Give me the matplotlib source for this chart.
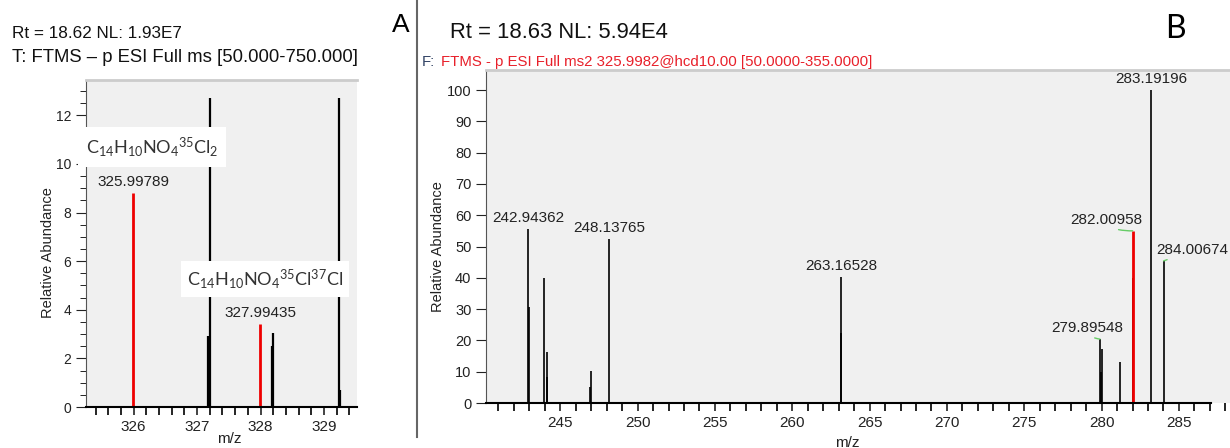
import matplotlib
matplotlib.use('Agg')
import matplotlib.pyplot as plt
from matplotlib.ticker import MultipleLocator
from matplotlib.lines import Line2D

plt.rcParams['font.family'] = ['Liberation Sans', 'DejaVu Sans']
plt.rcParams['mathtext.default'] = 'regular'

# panel A - full scan, isotope cluster
a_red_mz = [325.99789, 327.99435]
a_red_int = [8.8, 3.4]
a_mz = [327.18, 327.195, 327.21, 328.175, 328.19, 329.235, 329.25]
a_int = [2.9, 2.3, 12.7, 2.5, 3.05, 12.7, 0.7]
a_labels = ['325.99789', '327.99435']
a_formulas = [r'C$_{14}$H$_{10}$NO$_4$$^{35}$Cl$_2$',
              r'C$_{14}$H$_{10}$NO$_4$$^{35}$Cl$^{37}$Cl']

# panel B - ms2 spectrum
b_red_mz = [282.00958]
b_red_int = [55.0]
b_mz = [242.94362, 243.0, 243.93, 244.13, 244.15, 246.95, 246.97, 248.13765,
        263.13, 263.16528, 279.89548, 279.95, 280.0, 281.19, 282.05,
        283.19196, 284.00674]
b_int = [55.5, 30.6, 39.8, 8.3, 16.4, 5.2, 10.3, 52.3,
         22.3, 40.4, 20.4, 10.0, 17.1, 13.2, 39.8,
         100.0, 45.4]
b_label_mz = [242.94362, 248.13765, 263.16528, 279.89548, 282.00958, 283.19196, 284.00674]
b_label_int = [55.5, 52.3, 40.4, 20.4, 55.0, 100.0, 45.4]

W, H = 1230, 448
fig = plt.figure(figsize=(12.3, 4.48), dpi=100)


def fx(x):
    return x / W


def fy(y):
    return 1 - y / H


text_col = '#222222'
bg = '#f0f0f0'

axA = fig.add_axes([fx(86), fy(407), fx(357) - fx(86), fy(80) - fy(407)])
axB = fig.add_axes([fx(486), fy(403), fx(1230) - fx(486), fy(70) - fy(403)])

for ax in (axA, axB):
    ax.set_facecolor(bg)
    ax.spines['right'].set_visible(False)
    ax.spines['top'].set_color('#cccccc')
    ax.spines['top'].set_linewidth(2)
    ax.spines['left'].set_color('#555555')
    ax.spines['bottom'].set_color('black')
    ax.spines['bottom'].set_linewidth(1.5)
    ax.tick_params(colors=text_col, labelcolor=text_col)

# --- A ---
axA.vlines(a_mz, 0, a_int, color='black', lw=1.6)
axA.vlines(a_red_mz, 0, a_red_int, color='#ee0000', lw=2)
axA.set_xlim(325.25, 329.52)
axA.set_ylim(0, 13.45)
axA.xaxis.set_major_locator(MultipleLocator(1))
axA.xaxis.set_minor_locator(MultipleLocator(0.2))
axA.yaxis.set_major_locator(MultipleLocator(2))
axA.yaxis.set_minor_locator(MultipleLocator(0.5))
axA.tick_params(axis='x', which='both', length=6, width=1.2, labelsize=11)
axA.tick_params(axis='y', which='major', length=7, labelsize=10)
axA.tick_params(axis='y', which='minor', length=4)
for m, v, t in zip(a_red_mz, a_red_int, a_labels):
    axA.annotate(t, (m, v), xytext=(0, 4), textcoords='offset pixels',
                 ha='center', va='bottom', fontsize=11, color=text_col)
axA.text(fx(152), fy(147), a_formulas[0], transform=fig.transFigure, ha='center', va='center',
         fontsize=13, family='Lato', color='#333333', zorder=5,
         bbox=dict(fc='white', ec='none', boxstyle='square,pad=0.45'))
axA.text(fx(265), fy(279), a_formulas[1], transform=fig.transFigure, ha='center', va='center',
         fontsize=13, family='Lato', color='#333333', zorder=5,
         bbox=dict(fc='white', ec='none', boxstyle='square,pad=0.35'))

# --- B ---
axB.vlines(b_mz, 0, b_int, color='black', lw=1.2)
axB.vlines(b_red_mz, 0, b_red_int, color='#ee0000', lw=2)
axB.set_xlim(240.2, 288.3)
axB.set_ylim(0, 106.4)
axB.spines['bottom'].set_bounds(240.2, 287.05)
axB.xaxis.set_major_locator(MultipleLocator(5))
axB.xaxis.set_minor_locator(MultipleLocator(1))
axB.yaxis.set_major_locator(MultipleLocator(10))
axB.tick_params(axis='x', which='both', length=6, width=1.2, labelsize=11)
axB.tick_params(axis='y', which='major', length=7, labelsize=10.5)

# label offsets in pixels (dx, dy) and whether a green leader is drawn
b_offsets = [(0, 4), (0, 4), (0, 4), (-13, 4), (-26, 4), (0, 4), (29, 4)]
b_leader = [False, False, False, True, True, False, True]
for m, v, off, lead in zip(b_label_mz, b_label_int, b_offsets, b_leader):
    kw = {}
    if lead:
        kw['arrowprops'] = dict(arrowstyle='-', color='#66cc66', lw=1,
                                shrinkA=0, shrinkB=0, relpos=(0.5, 0.05),
                                connectionstyle='arc3,rad=0.1')
    axB.annotate(f'{m:.5f}', (m, v), xytext=off, textcoords='offset pixels',
                 ha='center', va='bottom', fontsize=11, color=text_col, **kw)

# axis labels
fig.text(fx(48), fy(253), 'Relative Abundance', rotation=90, ha='center', va='center',
         fontsize=10.5, color=text_col)
fig.text(fx(438), fy(247), 'Relative Abundance', rotation=90, ha='center', va='center',
         fontsize=10.5, color=text_col)
fig.text(fx(229), fy(439), 'm/z', ha='center', va='center', fontsize=11, color=text_col)
fig.text(fx(847), fy(443), 'm/z', ha='center', va='center', fontsize=11, color=text_col)

# headers
fig.text(fx(12), fy(33), 'Rt = 18.62 NL: 1.93E7', ha='left', va='center', fontsize=12.3, color='#111111')
fig.text(fx(12), fy(57), 'T: FTMS \u2013 p ESI Full ms [50.000-750.000]', ha='left', va='center',
         fontsize=13.3, color='#111111')
fig.text(fx(450), fy(33), 'Rt = 18.63 NL: 5.94E4', ha='left', va='center', fontsize=15.8, color='#111111')
fig.text(fx(422), fy(62), 'F:', ha='left', va='center', fontsize=10.8, color='#334466')
fig.text(fx(441), fy(62), 'FTMS - p ESI Full ms2 325.9982@hcd10.00 [50.0000-355.0000]',
         ha='left', va='center', fontsize=10.8, color='#e8202a')
fig.text(fx(401), fy(25), 'A', ha='center', va='center', fontsize=19, color='black')
fig.text(fx(1175), fy(29), 'B', family='Lato', ha='center', va='center', fontsize=23, color='black')

# divider between panels
fig.add_artist(Line2D([fx(417), fx(417)], [fy(0), fy(437)], transform=fig.transFigure,
                      color='#666666', lw=1.5))

fig.savefig('out.png', dpi=100)
